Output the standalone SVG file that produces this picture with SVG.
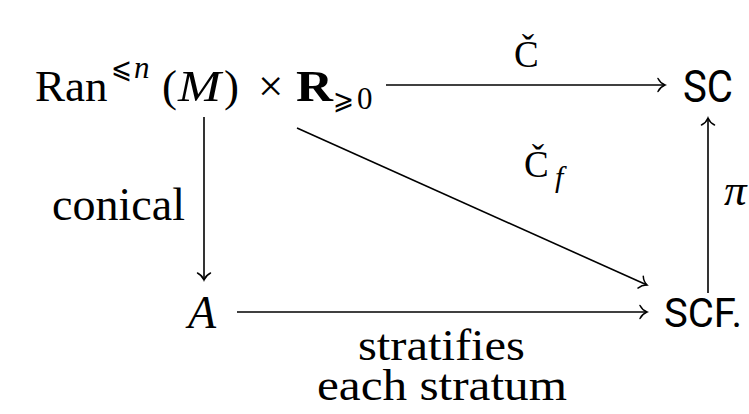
<svg xmlns="http://www.w3.org/2000/svg" width="749" height="414" viewBox="0 0 749 414">
<style>
.serif{font-family:"Liberation Serif","DejaVu Serif",serif;fill:#000}
.sans{font-family:Roboto,"Liberation Sans",sans-serif;fill:#000}
.sym{font-family:"DejaVu Sans","Liberation Serif",serif}
.it{font-style:italic}
.edge{stroke:#000;stroke-width:1.6;fill:none}
</style>
<defs>
<marker id="head" viewBox="-9 -8 11 16" refX="0" refY="0" markerWidth="11" markerHeight="16" markerUnits="userSpaceOnUse" orient="auto">
<path d="M -7,-6.5 C -5,-2.5 -2,-0.8 0,0 C -2,0.8 -5,2.5 -7,6.5" fill="none" stroke="#000" stroke-width="1.5" stroke-linecap="round"/>
</marker>
</defs>
<g id="connectors">
<line class="edge" x1="386" y1="85" x2="665" y2="85" marker-end="url(#head)"/>
<line class="edge" x1="204" y1="117" x2="204" y2="280" marker-end="url(#head)"/>
<line class="edge" x1="297" y1="128" x2="647" y2="285" marker-end="url(#head)"/>
<line class="edge" x1="237" y1="312" x2="647" y2="312" marker-end="url(#head)"/>
<line class="edge" x1="708" y1="293" x2="708" y2="118" marker-end="url(#head)"/>
</g>
<g id="node-ran">
<text class="serif" font-size="45" y="101"><tspan x="35">Ran</tspan><tspan class="sym" x="111" y="78" font-size="29" textLength="21" lengthAdjust="spacingAndGlyphs">⩽</tspan><tspan class="it" x="134" y="78" font-size="31">n</tspan><tspan x="162" y="101">(</tspan><tspan class="it" x="178" textLength="43" lengthAdjust="spacingAndGlyphs">M</tspan><tspan x="224">)</tspan><tspan x="258">×</tspan><tspan x="296" font-weight="bold" textLength="37" lengthAdjust="spacingAndGlyphs">R</tspan><tspan class="sym" x="333" y="109" font-size="28" textLength="21" lengthAdjust="spacingAndGlyphs">⩾</tspan><tspan x="357" y="109" font-size="31">0</tspan></text>
</g>
<g id="node-sc">
<text class="sans" x="683" y="102" font-size="44" textLength="50" lengthAdjust="spacingAndGlyphs">SC</text>
</g>
<g id="node-a">
<text class="serif it" x="188" y="328" font-size="46">A</text>
</g>
<g id="node-scf">
<text class="sans" x="664" y="327" font-size="41" textLength="78" lengthAdjust="spacingAndGlyphs">SCF.</text>
</g>
<g id="labels">
<text class="serif" x="514" y="67" font-size="37">Č</text>
<text class="serif" x="524" y="177" font-size="37">Č</text>
<text class="serif it" x="555" y="187" font-size="30">f</text>
<text class="serif it" x="724" y="205" font-size="45">π</text>
<text class="serif" x="52" y="220" font-size="46" textLength="133" lengthAdjust="spacingAndGlyphs">conical</text>
<text class="serif" font-size="45"><tspan x="358" y="360" textLength="167" lengthAdjust="spacingAndGlyphs">stratifies</tspan><tspan x="317" y="400" textLength="250" lengthAdjust="spacingAndGlyphs">each stratum</tspan></text>
</g>
</svg>
